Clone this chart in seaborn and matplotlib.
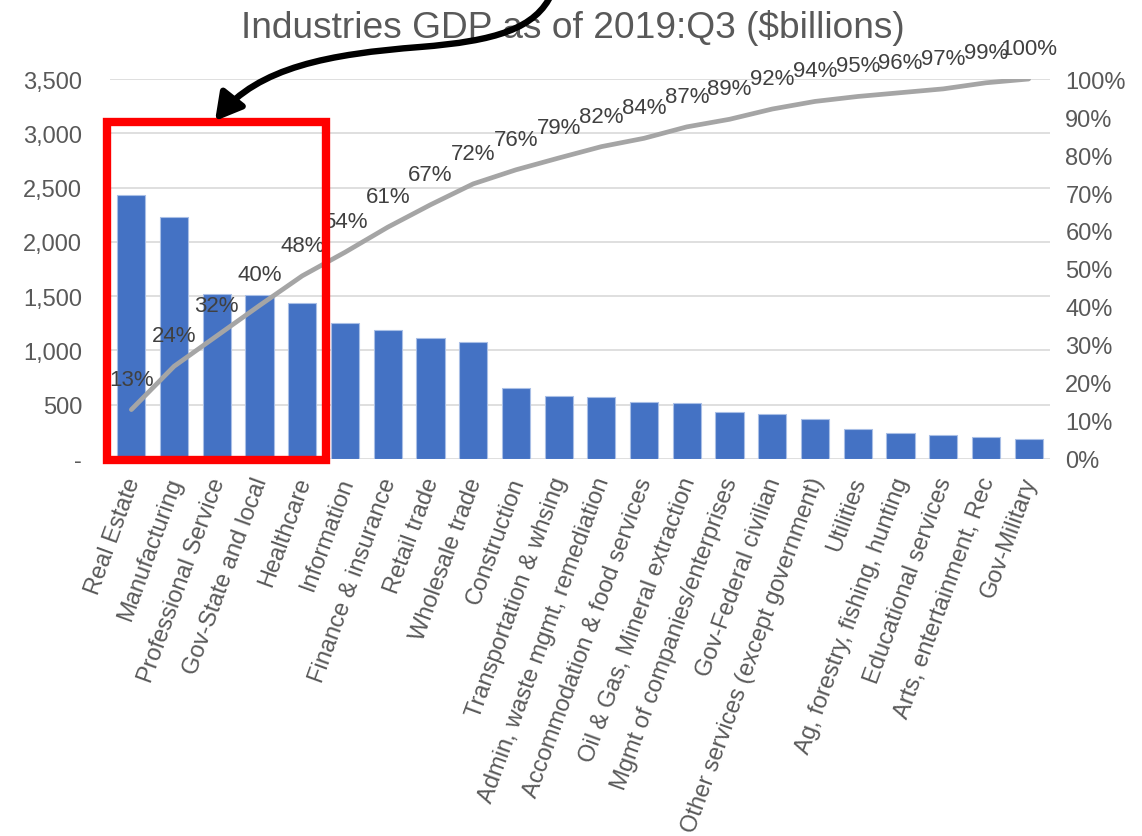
import numpy as np
import pandas as pd
import matplotlib
matplotlib.use("Agg")
import matplotlib.pyplot as plt
import seaborn as sns
from matplotlib.patches import Rectangle, FancyArrowPatch
from matplotlib.path import Path
from matplotlib.ticker import FixedLocator, FixedFormatter

# ---- data -------------------------------------------------------------
industries = [
    "Real Estate", "Manufacturing", "Professional Service", "Gov-State and local",
    "Healthcare", "Information", "Finance & insurance", "Retail trade",
    "Wholesale trade", "Construction", "Transportation & whsing",
    "Admin, waste mgmt, remediation", "Accommodation & food services",
    "Oil & Gas, Mineral extraction", "Mgmt of companies/enterprises",
    "Gov-Federal civilian", "Other services (except government)", "Utilities",
    "Ag, forestry, fishing, hunting", "Educational services",
    "Arts, entertainment, Rec", "Gov-Military",
]
gdp_billions = [2435, 2228, 1524, 1506, 1435, 1250, 1191, 1117, 1077, 658, 580,
                568, 528, 512, 429, 417, 370, 275, 241, 219, 201, 188]
cumulative_pct = [13.0, 24.4, 32.4, 40.4, 48.2, 54.4, 61.0, 66.9, 72.4, 76.1, 79.2,
                  82.2, 84.4, 87.4, 89.4, 92.1, 94.1, 95.4, 96.4, 97.4, 99.0, 100.0]
left_ticks = [0, 500, 1000, 1500, 2000, 2500, 3000, 3500]
left_tick_labels = ["-", "500", "1,000", "1,500", "2,000", "2,500", "3,000", "3,500"]
right_ticks = [0, 10, 20, 30, 40, 50, 60, 70, 80, 90, 100]
title = "Industries GDP as of 2019:Q3 ($billions)"

df = pd.DataFrame({"industry": industries, "gdp": gdp_billions,
                   "pos": np.arange(len(industries)), "cum": cumulative_pct})

# ---- style ------------------------------------------------------------
sns.set_theme(style="white")
plt.rcParams["font.family"] = ["Liberation Sans", "DejaVu Sans"]

W, H = 1142, 837
fig = plt.figure(figsize=(W / 100, H / 100), dpi=100)
fig.patch.set_facecolor("white")

def px(x, y):
    """pixel position (from top-left) -> figure fraction"""
    return x / W, 1 - y / H

ax = fig.add_axes([110 / W, 1 - 460 / H, 940 / W, 380 / H])
TICK_GRAY = "#595959"

sns.barplot(data=df, x="industry", y="gdp", color="#4472C4", width=0.66,
            edgecolor="#A9BFE6", linewidth=0.8, saturation=1, ax=ax, zorder=2)
ax.set_xlim(-0.5, len(industries) - 0.5)
ax.set_ylim(0, 3500)
ax.yaxis.set_major_locator(FixedLocator(left_ticks))
ax.yaxis.set_major_formatter(FixedFormatter(left_tick_labels))
ax.grid(axis="y", color="#D9D9D9", linewidth=1.2, zorder=0)
ax.grid(axis="x", visible=False)
ax.set_axisbelow(True)
ax.set_xlabel("")
ax.set_ylabel("")
for s in ax.spines.values():
    s.set_visible(False)
ax.tick_params(axis="y", length=0, pad=20, labelsize=17, labelcolor=TICK_GRAY)
ax.tick_params(axis="x", length=0, pad=13, labelsize=17, labelcolor=TICK_GRAY)
ax.set_xticks(df["pos"])
ax.set_xticklabels(industries, rotation=70, ha="right", rotation_mode="anchor",
                   va="center_baseline")

# ---- cumulative share on secondary axis --------------------------------
ax2 = ax.twinx()
sns.lineplot(data=df, x="pos", y="cum", color="#A5A5A5", linewidth=3.4,
             solid_capstyle="round", ax=ax2, zorder=3)
ax2.set_ylim(0, 100)
ax2.set_xlim(-0.5, len(industries) - 0.5)
ax2.yaxis.set_major_locator(FixedLocator(right_ticks))
ax2.yaxis.set_major_formatter(FixedFormatter([f"{t}%" for t in right_ticks]))
ax2.tick_params(axis="y", length=0, pad=11, labelsize=17, labelcolor=TICK_GRAY)
ax2.set_xlabel("")
ax2.set_ylabel("")
ax2.grid(False)
for s in ax2.spines.values():
    s.set_visible(False)

for p, c in zip(df["pos"], df["cum"]):
    ax2.annotate(f"{c:.0f}%", (p, c), xytext=(0, 22), textcoords="offset points",
                 ha="center", va="center", fontsize=16, color="#404040",
                 annotation_clip=False, zorder=4)

# ---- title -------------------------------------------------------------
fig.text(*px(573, 38), title, ha="center", va="baseline", fontsize=26.7,
         color=TICK_GRAY)

# ---- highlight box around the top five industries -----------------------
x0, y0 = px(106.5, 460.5)
x1, y1 = px(325.5, 122.5)
fig.add_artist(Rectangle((x0, y0), x1 - x0, y1 - y0, transform=fig.transFigure,
                         fill=False, edgecolor="#FF0000", linewidth=6,
                         joinstyle="miter", zorder=5))

# ---- curved pointer into the box ---------------------------------------
pts = [(552, -6), (536, 30), (495, 42), (420, 48),
       (330, 55), (258, 68), (215, 122)]
codes = [Path.MOVETO] + [Path.CURVE4] * 6
verts = [px(x, y) for x, y in pts]
arrow = FancyArrowPatch(path=Path(verts, codes), transform=fig.transFigure,
                        arrowstyle="-|>,head_length=0.8,head_width=0.45",
                        mutation_scale=20, color="black", linewidth=4.6,
                        zorder=6, clip_on=False)
fig.add_artist(arrow)

fig.savefig("out.png", dpi=100)
